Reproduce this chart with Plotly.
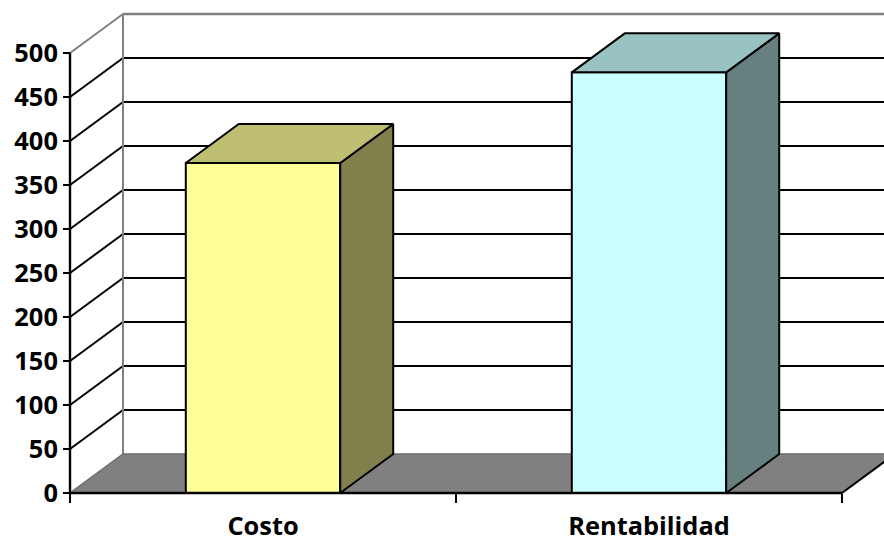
import plotly.graph_objects as go

# ---- data ----
categories = ["Costo", "Rentabilidad"]
values = [375, 478]
y_ticks = [0, 50, 100, 150, 200, 250, 300, 350, 400, 450, 500]

# ---- styling ----
front_colors = ["#FFFF99", "#CCFFFF"]
top_colors = ["#BFBF73", "#99C2C2"]
side_colors = ["#80804D", "#668080"]
WALL_EDGE = "#808080"
FLOOR = "#808080"
FONT = dict(family="Open Sans", size=25.4, color="black", weight="bold")

W, H = 884, 545
Y_MAX = 500
N = len(categories)
BAR_W = 0.4          # bar width in category units
PX_PER_CAT = 386     # horizontal scale
PX_PER_VAL = 0.88    # vertical scale
LEFT_PX = 70         # front axis position
BASE_PX = 493        # front floor line
PLOT_BOTTOM_PX = 505
DX = 53 / PX_PER_CAT     # oblique depth, x component (category units)
DY = 39 / PX_PER_VAL     # oblique depth, y component (value units)

x_range = [-LEFT_PX / PX_PER_CAT, (W - LEFT_PX) / PX_PER_CAT]
y_range = [-(PLOT_BOTTOM_PX - BASE_PX) / PX_PER_VAL, BASE_PX / PX_PER_VAL]

shapes = []


def poly(pts, fill, line_color=None, width=0, layer="below"):
    path = "M " + " L ".join(f"{x},{y}" for x, y in pts) + " Z"
    shapes.append(dict(type="path", path=path, xref="x", yref="y",
                       fillcolor=fill, layer=layer,
                       line=dict(color=line_color or fill, width=width)))


def seg(p, q, color, width, layer="below"):
    shapes.append(dict(type="line", x0=p[0], y0=p[1], x1=q[0], y1=q[1],
                       xref="x", yref="y", layer=layer,
                       line=dict(color=color, width=width)))


# side wall and back wall
poly([(0, 0), (DX, DY), (DX, Y_MAX + DY), (0, Y_MAX)], "white")
poly([(DX, DY), (N + DX, DY), (N + DX, Y_MAX + DY), (DX, Y_MAX + DY)], "white")

# gridlines running across side wall and back wall
for v in y_ticks[1:-1]:
    seg((0, v), (DX, v + DY), "black", 2)
    seg((DX, v + DY), (N + DX, v + DY), "black", 2)

# wall borders
seg((0, Y_MAX), (DX, Y_MAX + DY), WALL_EDGE, 2)
seg((DX, Y_MAX + DY), (N + DX, Y_MAX + DY), WALL_EDGE, 2.4)
seg((DX, DY), (DX, Y_MAX + DY), WALL_EDGE, 2)

# floor
poly([(0, 0), (N, 0), (N + DX, DY), (DX, DY)], FLOOR, "#6E6E6E", 1.5)
seg((N, 0), (N + DX, DY), "black", 2)

fig = go.Figure()

# front faces of the columns
centers = [i + 0.5 for i in range(N)]
fig.add_trace(go.Bar(
    x=centers, y=values, width=BAR_W,
    marker=dict(color=front_colors, line=dict(color="black", width=2)),
    hoverinfo="skip", showlegend=False,
))

# top and side faces of the columns
for c, v, tc, sc in zip(centers, values, top_colors, side_colors):
    l, r = c - BAR_W / 2, c + BAR_W / 2
    side = [(r, 0), (r + DX, DY), (r + DX, v + DY), (r, v), (r, 0)]
    top = [(l, v), (r, v), (r + DX, v + DY), (l + DX, v + DY), (l, v)]
    for pts, col in ((side, sc), (top, tc)):
        fig.add_trace(go.Scatter(
            x=[p[0] for p in pts], y=[p[1] for p in pts],
            mode="lines", fill="toself", fillcolor=col,
            line=dict(color="black", width=2),
            hoverinfo="skip", showlegend=False,
        ))

# front axis lines
seg((0, 0), (0, Y_MAX), "black", 2.4, layer="above")
seg((0, 0), (N, 0), "black", 2.4, layer="above")

fig.update_layout(
    width=W, height=H,
    margin=dict(l=0, r=0, t=0, b=H - PLOT_BOTTOM_PX),
    plot_bgcolor="white", paper_bgcolor="white",
    shapes=shapes,
    showlegend=False,
    xaxis=dict(
        range=x_range, anchor="free", automargin=False,
        position=(PLOT_BOTTOM_PX - BASE_PX) / PLOT_BOTTOM_PX,
        tickvals=centers, ticktext=categories,
        ticks="outside", ticklen=11, tickcolor="rgba(0,0,0,0)",
        minor=dict(tickvals=list(range(N + 1)), ticks="outside",
                   ticklen=9, tickwidth=2, tickcolor="black"),
        showgrid=False, zeroline=False, showline=False,
        tickfont=FONT,
    ),
    yaxis=dict(
        range=y_range, anchor="free", position=LEFT_PX / W, automargin=False,
        tickvals=y_ticks, ticks="outside", ticklen=7, tickwidth=2,
        tickcolor="black", showgrid=False, zeroline=False, showline=False,
        tickfont=FONT,
    ),
)

fig.write_html("out.html")
